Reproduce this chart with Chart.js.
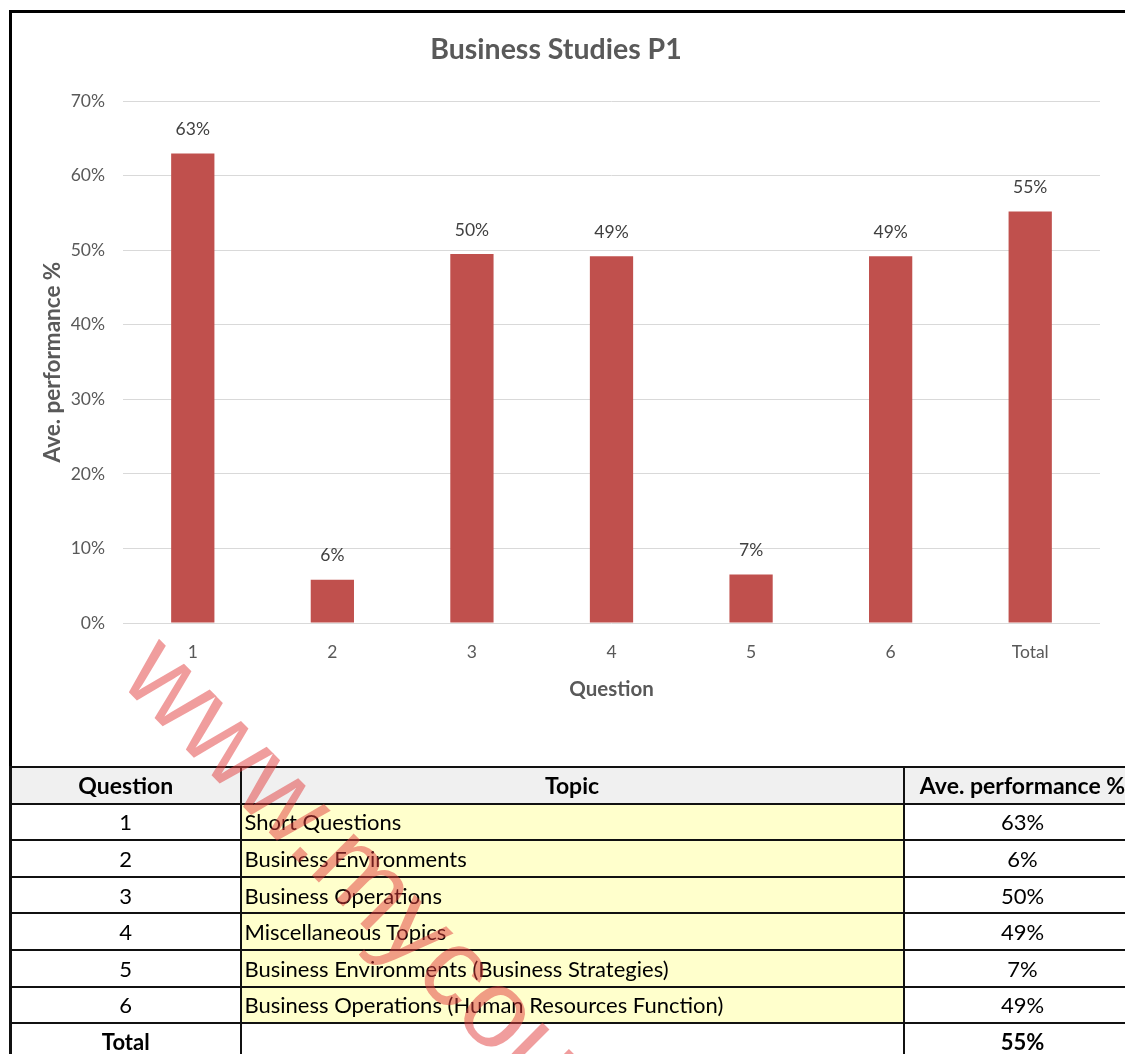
<!DOCTYPE html>
<html>
<head>
<meta charset="utf-8">
<script src="https://cdn.jsdelivr.net/npm/chart.js@4.4.0/dist/chart.umd.min.js"></script>
<style>
  html, body { margin: 0; padding: 0; background: #fff; width: 1125px; height: 1054px; overflow: hidden; position: relative; }
  #frame { position: absolute; left: 9px; top: 10px; width: 1200px; height: 760px; border-top: 3px solid #000; border-left: 3px solid #000; box-sizing: border-box; }
  #chartBox { position: absolute; left: 0; top: 0; width: 1125px; height: 766px; }
  #tbl { position: absolute; left: 9px; top: 766px; width: 1131px; border-collapse: collapse; table-layout: fixed; font-family: Lato, sans-serif; font-size: 22px; color: #000; }
  #tbl th, #tbl td { border: 2px solid #111; height: 34.6px; padding: 0 3px; white-space: nowrap; overflow: hidden; }
  #tbl tr > :first-child { border-left-width: 3px; }
  #tbl th { background: #f0f0f0; font-weight: bold; font-size: 23px; text-align: center; }
  #tbl td { text-align: center; }
  #tbl td.topic { background: #ffffcc; text-align: left; }
  #tbl tr.total td { font-weight: bold; }
  #wm { position: absolute; left: 190px; top: 608px; transform: rotate(45deg); transform-origin: 0 0; font-family: "Liberation Sans", Arial, sans-serif; font-size: 112px; line-height: normal; color: rgba(226, 60, 60, 0.5); white-space: nowrap; pointer-events: none; }
</style>
</head>
<body>
<div id="chartBox"><canvas id="myChart"></canvas></div>
<div id="frame"></div>
<table id="tbl">
  <colgroup><col style="width:230px"><col style="width:663px"><col style="width:238px"></colgroup>
  <thead><tr><th>Question</th><th>Topic</th><th>Ave. performance %</th></tr></thead>
  <tbody id="tbody"></tbody>
</table>
<div id="wm">www.mycourses.co.za</div>
<script>
const questions = ['1', '2', '3', '4', '5', '6', 'Total'];
const performance = [63.0, 5.8, 49.5, 49.2, 6.5, 49.2, 55.2];
const topics = [
    'Short Questions',
    'Business Environments',
    'Business Operations',
    'Miscellaneous Topics',
    'Business Environments (Business Strategies)',
    'Business Operations (Human Resources Function)',
    ''
];
const yTicks = [0, 10, 20, 30, 40, 50, 60, 70];

const pct = (v) => Math.round(v) + '%';

// table under the chart
const tbody = document.getElementById('tbody');
questions.forEach((q, i) => {
    const tr = document.createElement('tr');
    if (q === 'Total') tr.className = 'total';
    tr.innerHTML = '<td>' + q + '</td><td class="' + (q === 'Total' ? '' : 'topic') + '">' + topics[i] + '</td><td>' + pct(performance[i]) + '</td>';
    tbody.appendChild(tr);
});

const barLabels = {
    id: 'barLabels',
    afterDatasetsDraw(chart) {
        const ctx = chart.ctx;
        const meta = chart.getDatasetMeta(0);
        ctx.save();
        ctx.font = '17.5px Lato';
        ctx.fillStyle = '#404040';
        ctx.textAlign = 'center';
        ctx.textBaseline = 'middle';
        meta.data.forEach((bar, i) => {
            ctx.fillText(pct(performance[i]), bar.x, bar.y - 24);
        });
        ctx.restore();
    }
};

const data = {
    labels: questions,
    datasets: [{
        label: 'Ave. performance %',
        data: performance,
        backgroundColor: '#c0504d',
        barPercentage: 0.31,
        categoryPercentage: 1.0
    }]
};

const config = {
    type: 'bar',
    data: data,
    plugins: [barLabels],
    options: {
        responsive: true,
        maintainAspectRatio: false,
        animation: false,
        layout: { padding: { left: 12, right: 25, top: 14, bottom: 64 } },
        plugins: {
            legend: { display: false },
            tooltip: { enabled: false },
            title: {
                display: true,
                text: 'Business Studies P1',
                color: '#595959',
                font: { family: 'Lato', size: 28.5, weight: 'bold' },
                padding: { top: 19, bottom: 34 }
            }
        },
        scales: {
            x: {
                afterFit: (axis) => { axis.height = 79; },
                grid: { display: false, drawTicks: false },
                border: { display: false },
                ticks: { color: '#595959', font: { family: 'Lato', size: 17.5 }, padding: 18.5 },
                title: { display: true, text: 'Question', color: '#595959', font: { family: 'Lato', size: 20.5, weight: 'bold' }, padding: { top: 15, bottom: 0 } }
            },
            y: {
                min: 0,
                max: 70,
                afterBuildTicks: (axis) => { axis.ticks = yTicks.map(v => ({ value: v })); },
                afterFit: (axis) => { axis.width = 111; },
                grid: { color: '#d9d9d9', drawTicks: false },
                border: { display: false },
                ticks: { color: '#595959', font: { family: 'Lato', size: 17.5 }, padding: 18, callback: (v) => v + '%' },
                title: { display: true, text: 'Ave. performance %', color: '#595959', font: { family: 'Lato', size: 22.5, weight: 'bold' }, padding: { top: 27.5, bottom: 0 } }
            }
        }
    }
};

const myChart = new Chart(document.getElementById('myChart'), config);
</script>
</body>
</html>
